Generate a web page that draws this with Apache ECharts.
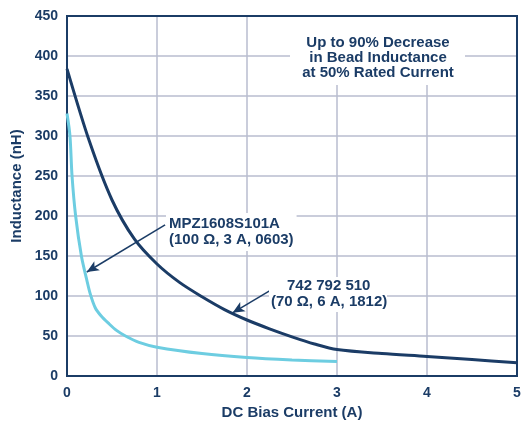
<!DOCTYPE html>
<html>
<head>
<meta charset="utf-8">
<script src="https://cdn.jsdelivr.net/npm/echarts@6/dist/echarts.min.js"></script>
<style>
  html, body { margin: 0; padding: 0; background: #fff; }
  #chart { width: 522px; height: 424px; }
</style>
</head>
<body>
<div id="chart"></div>
<script>
// 数据：直流偏置电流 (A) 与电感 (nH)
var darkX = [0, 0.25, 0.5, 0.75, 1, 1.25, 1.5, 1.75, 2, 2.25, 2.5, 2.75, 3, 3.5, 4, 4.5, 5];
var darkY = [384, 293, 220, 171, 140, 117, 99, 83, 70, 59, 49, 40, 33, 28, 24.5, 20.5, 16.5];
var lightX = [0, 0.033, 0.056, 0.096, 0.16, 0.22, 0.26, 0.315, 0.38, 0.46, 0.55, 0.65, 0.8, 1, 1.5, 2, 2.5, 3];
var lightY = [328, 300, 250, 200, 150, 120, 102, 85, 75, 66, 57, 50, 42, 36, 28, 23, 20, 18];
var xTicks = [0, 1, 2, 3, 4, 5];
var yTicks = [0, 50, 100, 150, 200, 250, 300, 350, 400, 450];

var NAVY = '#1b3c66';
var LIGHT = '#6dcde1';
var GRIDC = '#b8bccf';
var FONT = 'Liberation Sans, Arial, sans-serif';

function pairs(xs, ys) {
  var out = [];
  for (var i = 0; i < xs.length; i++) {
    out.push([xs[i], ys[i]]);
  }
  return out;
}

var labelStyle = { color: NAVY, fontWeight: 'bold', fontSize: 14, fontFamily: FONT };
var nameStyle = { color: NAVY, fontWeight: 'bold', fontSize: 15, fontFamily: FONT };

var chart = echarts.init(document.getElementById('chart'));
chart.setOption({
  animation: false,
  grid: {
    left: 67, right: 5, top: 16, bottom: 48,
    containLabel: false, outerBoundsMode: 'none',
    show: true, borderColor: NAVY, borderWidth: 2, backgroundColor: '#fff'
  },
  xAxis: [
    {
      type: 'value', min: xTicks[0], max: xTicks[xTicks.length - 1], interval: 1,
      name: 'DC Bias Current (A)', nameLocation: 'middle', nameGap: 28,
      nameTextStyle: nameStyle,
      axisLine: { show: true, lineStyle: { color: NAVY, width: 2 } },
      axisTick: { show: false },
      axisLabel: Object.assign({ margin: 10 }, labelStyle),
      splitLine: { show: true, lineStyle: { color: GRIDC, width: 1.5 } }
    },
    {
      // 上边框
      type: 'value', position: 'top', min: 0, max: 5,
      axisLine: { show: true, onZero: false, lineStyle: { color: NAVY, width: 2 } },
      axisTick: { show: false }, axisLabel: { show: false }, splitLine: { show: false }
    }
  ],
  yAxis: [
    {
      type: 'value', min: yTicks[0], max: yTicks[yTicks.length - 1], interval: 50,
      axisLine: { show: true, lineStyle: { color: NAVY, width: 2 } },
      axisTick: { show: false },
      axisLabel: Object.assign({ margin: 9 }, labelStyle),
      splitLine: { show: true, lineStyle: { color: GRIDC, width: 1.5 } }
    },
    {
      // 右边框
      type: 'value', position: 'right', min: 0, max: 450,
      axisLine: { show: true, onZero: false, lineStyle: { color: NAVY, width: 2 } },
      axisTick: { show: false }, axisLabel: { show: false }, splitLine: { show: false }
    }
  ],
  series: [
    {
      name: 'MPZ1608S101A', type: 'line', data: pairs(lightX, lightY),
      smooth: 0.3, symbol: 'none',
      lineStyle: { color: LIGHT, width: 3 }, z: 3
    },
    {
      name: '742 792 510', type: 'line', data: pairs(darkX, darkY),
      smooth: 0.3, symbol: 'none',
      lineStyle: { color: NAVY, width: 3 }, z: 4,
      markLine: {
        silent: true,
        symbol: ['none', 'arrow'], symbolSize: [8, 12],
        label: { show: false },
        lineStyle: { color: NAVY, width: 1.5, type: 'solid' },
        data: [
          [{ coord: [1.09, 189] }, { coord: [0.22, 130] }],
          [{ coord: [2.32, 111] }, { coord: [1.84, 79] }]
        ]
      }
    }
  ],
  graphic: [
    {
      type: 'text', x: 17, y: 186, rotation: Math.PI / 2, z: 11,
      style: {
        text: 'Inductance (nH)', fill: NAVY, font: 'bold 15px ' + FONT,
        align: 'center', verticalAlign: 'middle'
      }
    },
    {
      type: 'rect', shape: { x: 290, y: 17, width: 175, height: 68 },
      style: { fill: '#fff' }, z: 10
    },
    {
      type: 'text', x: 378, y: 35, z: 11,
      style: {
        text: 'Up to 90% Decrease\nin Bead Inductance\nat 50% Rated Current',
        fill: NAVY, font: 'bold 15px ' + FONT, align: 'center', lineHeight: 15
      }
    },
    {
      type: 'text', x: 166, y: 213, z: 11,
      style: {
        text: 'MPZ1608S101A\n(100 Ω, 3 A, 0603)',
        fill: NAVY, font: 'bold 15px ' + FONT, align: 'left', lineHeight: 16,
        backgroundColor: '#fff', padding: [3, 3, 3, 3]
      }
    },
    {
      type: 'rect', shape: { x: 269, y: 277, width: 118, height: 35 },
      style: { fill: '#fff' }, z: 10
    },
    {
      type: 'text', x: 287, y: 278, z: 11,
      style: { text: '742 792 510', fill: NAVY, font: 'bold 15px ' + FONT, lineHeight: 16 }
    },
    {
      type: 'text', x: 271, y: 294, z: 11,
      style: { text: '(70 Ω, 6 A, 1812)', fill: NAVY, font: 'bold 15px ' + FONT, lineHeight: 16 }
    }
  ]
});
</script>
</body>
</html>
